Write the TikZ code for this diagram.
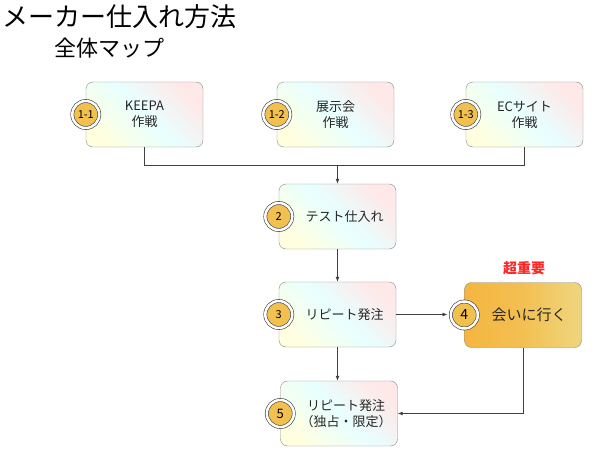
\documentclass[tikz,border=0pt]{standalone}
\usepackage{fontspec}
\setmainfont{Noto Sans CJK JP}
\usetikzlibrary{positioning,arrows.meta}
\definecolor{boxline}{HTML}{8A8A8A}
\definecolor{badge}{HTML}{F2C04E}
\definecolor{hot}{HTML}{F5B63F}
\definecolor{hotend}{HTML}{EED67E}
\tikzset{
  stage/.style={draw=boxline, rounded corners=7pt, minimum width=117pt, minimum height=65pt,
    align=center, font=\fontsize{13}{16}\selectfont, text=black!85,
    left color=yellow!12, right color=red!9, middle color=cyan!9, shading angle=135},
  key/.style={stage, left color=hot, right color=hotend, middle color=hot!70!hotend},
  num/.style={circle, fill=badge, draw=black!75, line width=0.6pt, minimum size=27pt, inner sep=0pt,
    font=\fontsize{11}{11}\selectfont, double=white, double distance=2.5pt},
  link/.style={draw=black!75, line width=0.8pt},
  arr/.style={link, -{Latex[length=5pt,width=4pt]}}
}
\begin{document}
\begin{tikzpicture}[x=1pt,y=-1pt]
	\useasboundingbox (0,0) rectangle (614,455);

	\node[anchor=north west, inner sep=0pt, font=\fontsize{26}{26}\selectfont] (title) at (2,4) {メーカー仕入れ方法};
	\node[anchor=north west, inner sep=0pt, font=\fontsize{22}{22}\selectfont] (sub) at (54,38) {全体マップ};

	\node[stage] (k1) at (144.5,114.5) {KEEPA\\作戦};
	\node[stage] (k2) at (335.5,114.5) {展示会\\作戦};
	\node[stage] (k3) at (524.5,114.5) {ECサイト\\作戦};
	\node[stage] (test) at (337.5,216.5) {\hspace{14pt}テスト仕入れ};
	\node[stage] (rep) at (337.5,314.5) {\hspace{14pt}リピート発注};
	\node[key, font=\fontsize{15}{17}\selectfont] (meet) at (523,315) {\hspace{12pt}会いに行く};
	\node[stage] (excl) at (339,413.5) {\hspace{14pt}リピート発注\\\hspace{14pt}（独占・限定）};
	\node[font=\bfseries\fontsize{14}{14}\selectfont, text=red!85] (must) at (524,268) {超重要};

	\node[num] at (k1.west) {1-1};
	\node[num] at (k2.west) {1-2};
	\node[num] at (k3.west) {1-3};
	\node[num] at (test.west) {2};
	\node[num] at (rep.west) {3};
	\node[num, font=\fontsize{14}{14}\selectfont] (n4) at (meet.west) {4};
	\node[num, font=\fontsize{13}{13}\selectfont] at (excl.west) {5};

	\coordinate (join) at ([yshift=-18pt]k2.south);
	\draw[link] (k1.south) |- (join) -| (k3.south);
	\draw[arr] (join -| test.north) -- (test.north);
	\draw[arr] (test) -- (rep);
	\draw[arr] (rep.east) -- ([xshift=-3pt]n4.west |- rep.east);
	\draw[arr] (rep.south) -- (rep.south |- excl.north);
	\draw[arr] (meet.south) |- (excl.east);
\end{tikzpicture}
\end{document}
